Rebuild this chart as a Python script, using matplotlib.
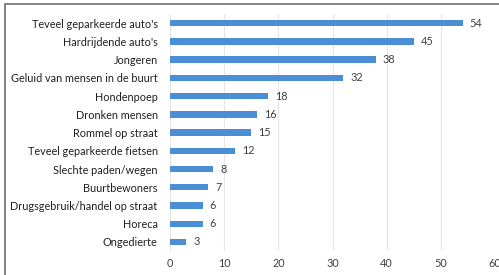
import matplotlib.pyplot as plt
from matplotlib.patches import Rectangle

categories = ["Teveel geparkeerde auto's", "Hardrijdende auto's", "Jongeren",
              "Geluid van mensen in de buurt", "Hondenpoep", "Dronken mensen",
              "Rommel op straat", "Teveel geparkeerde fietsen", "Slechte paden/wegen",
              "Buurtbewoners", "Drugsgebruik/handel op straat", "Horeca", "Ongedierte"]
values = [54, 45, 38, 32, 18, 16, 15, 12, 8, 7, 6, 6, 3]
xticks = [0, 10, 20, 30, 40, 50, 60]

plt.rcParams['font.family'] = ['Lato', 'DejaVu Sans']
fig = plt.figure(figsize=(4.99, 2.75), dpi=100)
ax = fig.add_axes([0.341, 0.087, 0.651, 0.862])

y = list(range(len(categories)))
ax.barh(y, values, height=0.35, color='#4a8fd6')
for yi, v in zip(y, values):
    ax.text(v + 1.3, yi, str(v), va='center', ha='left', fontsize=7.8, color='#404040')

ax.set_xlim(0, 60)
ax.set_ylim(len(categories) - 0.5, -0.5)
ax.set_yticks(y)
ax.set_yticklabels(categories, fontsize=7.8, color='#202020')
ax.set_xticks(xticks)
ax.set_xticklabels([str(t) for t in xticks], fontsize=7.8, color='#404040')
ax.tick_params(length=0, pad=9)
ax.tick_params(axis='x', pad=5)
ax.xaxis.grid(True, color='#e6e6e6', linewidth=0.8)
ax.set_axisbelow(True)
for s in ax.spines.values():
    s.set_visible(False)

fig.patches.append(Rectangle((5 / 499, -0.05), 1.1, 1 - 4 / 275 + 0.05,
                             transform=fig.transFigure, fill=False,
                             edgecolor='#707070', linewidth=1.2))

fig.savefig('out.png', dpi=100)
